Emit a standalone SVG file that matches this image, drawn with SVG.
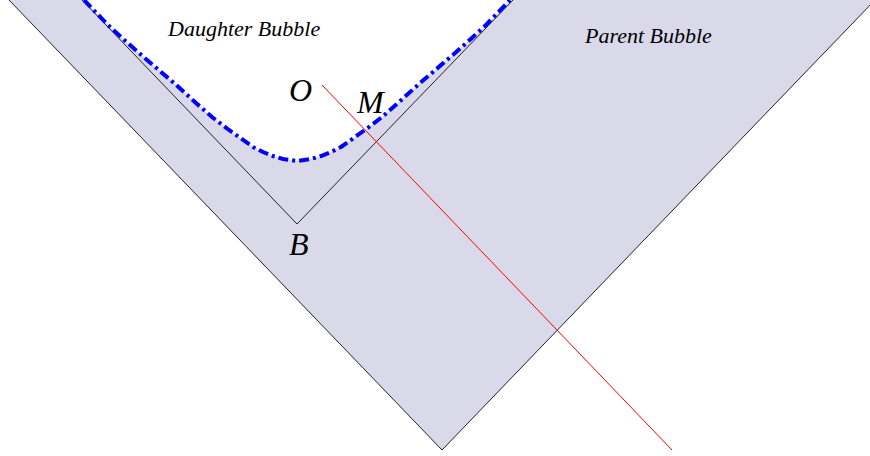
<svg xmlns="http://www.w3.org/2000/svg" width="870" height="456" viewBox="0 0 870 456">
<style>
.fill{fill:#d9d9ea;stroke:none}
.edge{fill:none;stroke:#222;stroke-width:1}
.wall{fill:none;stroke:#0000ff;stroke-width:4;stroke-dasharray:10 4 3 4}
.ray{fill:none;stroke:#ff0000;stroke-width:1}
.lbl{font-family:"Liberation Serif","Times New Roman",serif;font-style:italic;fill:#000}
.big{font-size:32px}
.small{font-size:22px}
</style>
<rect width="870" height="456" fill="#ffffff"/>
<g id="parent-bubble">
<path class="fill" d="M9 0 L442 450 L875 0 L510 0 L486 25 L473 37 L455 53 L433 72 L420 83 L398 103 L382 117 L365 130 L355 137 L341 147 L331 152 L321 156 L311 159 L297 161 L283 159 L273 156 L263 152 L253 147 L239 137 L229 130 L212 117 L196 103 L174 83 L161 72 L139 53 L121 37 L108 25 L84 0 Z"/>
<text class="lbl small" x="585" y="43">Parent Bubble</text>
</g>
<g id="daughter-bubble">
<text class="lbl small" x="168" y="36">Daughter Bubble</text>
</g>
<g id="connectors">
<path class="edge" d="M9 0 L442 450 L875 0"/>
<path class="edge" d="M82 0 L297 224 L513 0"/>
<path class="wall" d="M84 0 L108 25 L121 37 L139 53 L161 72 L174 83 L196 103 L212 117 L229 130 L239 137 L253 147 L263 152 L273 156 L283 159 L297 161 L311 159 L321 156 L331 152 L341 147 L355 137 L365 130 L382 117 L398 103 L420 83 L433 72 L455 53 L473 37 L486 25 L510 0"/>
<path class="ray" d="M322 85 L672 450"/>
</g>
<g id="O"><text class="lbl big" x="289" y="101">O</text></g>
<g id="M"><text class="lbl big" x="357" y="113">M</text></g>
<g id="B"><text class="lbl big" x="289" y="255">B</text></g>
</svg>
